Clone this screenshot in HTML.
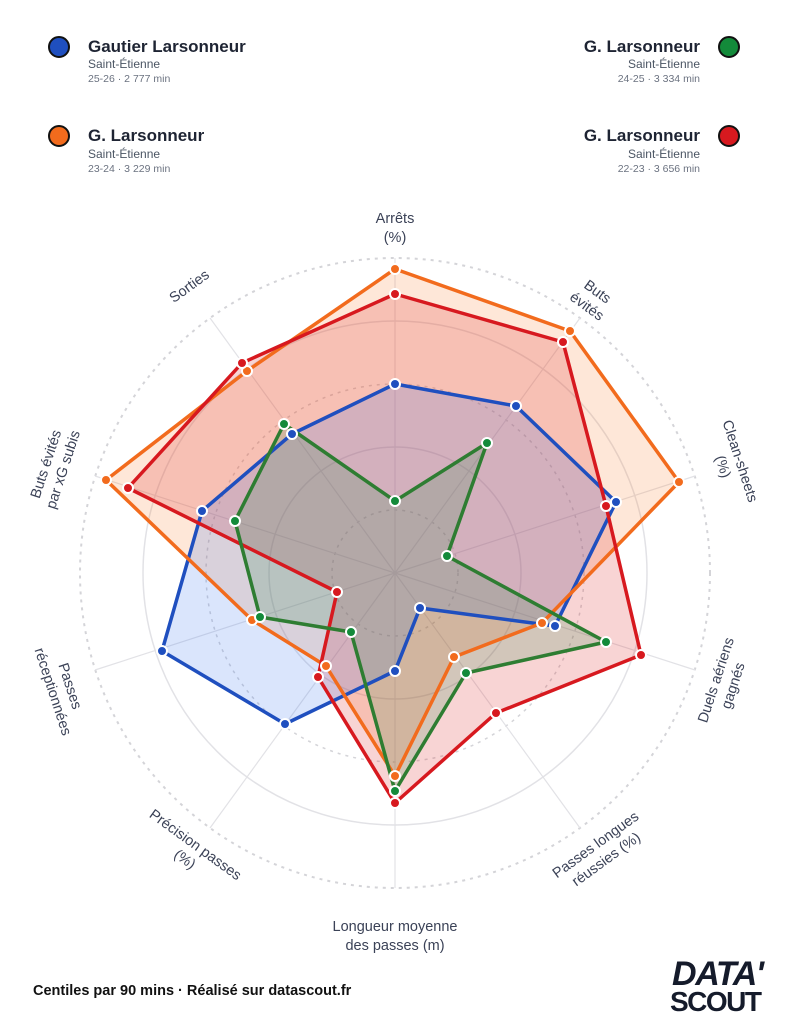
<!DOCTYPE html>
<html><head><meta charset="utf-8"><style>
body{margin:0;width:788px;height:1024px;background:#fff;font-family:"Liberation Sans",sans-serif;overflow:hidden}
svg text{font-family:"Liberation Sans",sans-serif}
</style></head><body>
<svg width="788" height="1024" viewBox="0 0 788 1024" xmlns="http://www.w3.org/2000/svg">
<!-- legend -->
<g>
<circle cx="59" cy="47" r="10" fill="#1f4fbf" stroke="#111" stroke-width="2"/>
<text x="88" y="52" font-size="17" font-weight="bold" fill="#1e2433">Gautier Larsonneur</text>
<text x="88" y="68" font-size="12" fill="#4b5563">Saint-Étienne</text>
<text x="88" y="82" font-size="10.5" fill="#6b7280">25-26 · 2 777 min</text>
<circle cx="59" cy="136" r="10" fill="#f26b1d" stroke="#111" stroke-width="2"/>
<text x="88" y="141" font-size="17" font-weight="bold" fill="#1e2433">G. Larsonneur</text>
<text x="88" y="158" font-size="12" fill="#4b5563">Saint-Étienne</text>
<text x="88" y="172" font-size="10.5" fill="#6b7280">23-24 · 3 229 min</text>
<circle cx="729" cy="47" r="10" fill="#138a3a" stroke="#111" stroke-width="2"/>
<text x="700" y="52" font-size="17" font-weight="bold" fill="#1e2433" text-anchor="end">G. Larsonneur</text>
<text x="700" y="68" font-size="12" fill="#4b5563" text-anchor="end">Saint-Étienne</text>
<text x="700" y="82" font-size="10.5" fill="#6b7280" text-anchor="end">24-25 · 3 334 min</text>
<circle cx="729" cy="136" r="10" fill="#d7191f" stroke="#111" stroke-width="2"/>
<text x="700" y="141" font-size="17" font-weight="bold" fill="#1e2433" text-anchor="end">G. Larsonneur</text>
<text x="700" y="158" font-size="12" fill="#4b5563" text-anchor="end">Saint-Étienne</text>
<text x="700" y="172" font-size="10.5" fill="#6b7280" text-anchor="end">22-23 · 3 656 min</text>
</g>
<!-- grid -->
<g fill="none">
<circle cx="395" cy="573" r="315" stroke="#d4d4d8" stroke-width="2" stroke-dasharray="3 5"/>
<circle cx="395" cy="573" r="252" stroke="#e2e2e6" stroke-width="1.5"/>
<circle cx="395" cy="573" r="189" stroke="#d4d4d8" stroke-width="1.5" stroke-dasharray="3 5"/>
<circle cx="395" cy="573" r="126" stroke="#e2e2e6" stroke-width="1.5"/>
<circle cx="395" cy="573" r="63" stroke="#d4d4d8" stroke-width="1.5" stroke-dasharray="3 5"/>
<g stroke="#e2e2e6" stroke-width="1.2">
<line x1="395" y1="573" x2="395" y2="258"/>
<line x1="395" y1="573" x2="580" y2="318"/>
<line x1="395" y1="573" x2="695" y2="476"/>
<line x1="395" y1="573" x2="695" y2="670"/>
<line x1="395" y1="573" x2="580" y2="828"/>
<line x1="395" y1="573" x2="395" y2="888"/>
<line x1="395" y1="573" x2="210" y2="828"/>
<line x1="395" y1="573" x2="95" y2="670"/>
<line x1="395" y1="573" x2="95" y2="476"/>
<line x1="395" y1="573" x2="210" y2="318"/>
</g></g>
<!-- fills -->
<polygon points="395,269 570,331 679,482 542,623 454,657 395,776 326,666 252,620 106,480 247,371" fill="#f97316" fill-opacity="0.17"/>
<polygon points="395,294 563,342 606,506 641,655 496,713 395,803 318,677 337,592 128,488 242,363" fill="#dc2626" fill-opacity="0.2"/>
<polygon points="395,384 516,406 616,502 555,626 420,608 395,671 285,724 162,651 202,511 292,434" fill="#2563eb" fill-opacity="0.17"/>
<polygon points="395,501 487,443 447,556 606,642 466,673 395,791 351,632 260,617 235,521 284,424" fill="#15803d" fill-opacity="0.17"/>
<!-- lines -->
<g fill="none" stroke-width="3.5" stroke-linejoin="round">
<polygon points="395,384 516,406 616,502 555,626 420,608 395,671 285,724 162,651 202,511 292,434" stroke="#1f4fbf"/>
<polygon points="395,269 570,331 679,482 542,623 454,657 395,776 326,666 252,620 106,480 247,371" stroke="#f26b1d"/>
<polygon points="395,294 563,342 606,506 641,655 496,713 395,803 318,677 337,592 128,488 242,363" stroke="#d7191f"/>
<polygon points="395,501 487,443 447,556 606,642 466,673 395,791 351,632 260,617 235,521 284,424" stroke="#2e7d32"/>
</g>
<g stroke="#fff" stroke-width="2">
<g fill="#1f4fbf"><circle cx="395" cy="384" r="5"/><circle cx="516" cy="406" r="5"/><circle cx="616" cy="502" r="5"/><circle cx="555" cy="626" r="5"/><circle cx="420" cy="608" r="5"/><circle cx="395" cy="671" r="5"/><circle cx="285" cy="724" r="5"/><circle cx="162" cy="651" r="5"/><circle cx="202" cy="511" r="5"/><circle cx="292" cy="434" r="5"/></g>
<g fill="#f26b1d"><circle cx="395" cy="269" r="5"/><circle cx="570" cy="331" r="5"/><circle cx="679" cy="482" r="5"/><circle cx="542" cy="623" r="5"/><circle cx="454" cy="657" r="5"/><circle cx="395" cy="776" r="5"/><circle cx="326" cy="666" r="5"/><circle cx="252" cy="620" r="5"/><circle cx="106" cy="480" r="5"/><circle cx="247" cy="371" r="5"/></g>
<g fill="#d7191f"><circle cx="395" cy="294" r="5"/><circle cx="563" cy="342" r="5"/><circle cx="606" cy="506" r="5"/><circle cx="641" cy="655" r="5"/><circle cx="496" cy="713" r="5"/><circle cx="395" cy="803" r="5"/><circle cx="318" cy="677" r="5"/><circle cx="337" cy="592" r="5"/><circle cx="128" cy="488" r="5"/><circle cx="242" cy="363" r="5"/></g>
<g fill="#138a3a"><circle cx="395" cy="501" r="5"/><circle cx="487" cy="443" r="5"/><circle cx="447" cy="556" r="5"/><circle cx="606" cy="642" r="5"/><circle cx="466" cy="673" r="5"/><circle cx="395" cy="791" r="5"/><circle cx="351" cy="632" r="5"/><circle cx="260" cy="617" r="5"/><circle cx="235" cy="521" r="5"/><circle cx="284" cy="424" r="5"/></g>
</g>
<!-- axis labels -->
<g font-size="14.5" fill="#3b4257" text-anchor="middle">
<text x="395" y="223">Arrêts</text><text x="395" y="242">(%)</text>
<g transform="translate(590,302) rotate(36)"><text x="0" y="-8">Buts</text><text x="0" y="10">évités</text></g>
<g transform="translate(728,465) rotate(72)"><text x="0" y="-8">Clean-sheets</text><text x="0" y="10">(%)</text></g>
<g transform="translate(728,684) rotate(-72)"><text x="0" y="-8">Duels aériens</text><text x="0" y="10">gagnés</text></g>
<g transform="translate(603,855) rotate(-36)"><text x="0" y="-8">Passes longues</text><text x="0" y="10">réussies (%)</text></g>
<text x="395" y="931">Longueur moyenne</text><text x="395" y="950">des passes (m)</text>
<g transform="translate(188,855) rotate(36)"><text x="0" y="-8">Précision passes</text><text x="0" y="10">(%)</text></g>
<g transform="translate(58,690) rotate(72)"><text x="0" y="-8">Passes</text><text x="0" y="10">réceptionnées</text></g>
<g transform="translate(58,468) rotate(-72)"><text x="0" y="-8">Buts évités</text><text x="0" y="10">par xG subis</text></g>
<g transform="translate(192,290) rotate(-36)"><text x="0" y="0">Sorties</text></g>
</g>
<text x="33" y="995" font-size="14.5" font-weight="bold" fill="#111">Centiles par 90 mins · Réalisé sur datascout.fr</text>
<text x="672" y="985" font-size="34" font-weight="bold" font-style="italic" fill="#151b2b" textLength="92">DATA'</text>
<text x="670" y="1011" font-size="28" font-weight="bold" fill="#151b2b" textLength="92">SCOUT</text>
</svg>
</body></html>
